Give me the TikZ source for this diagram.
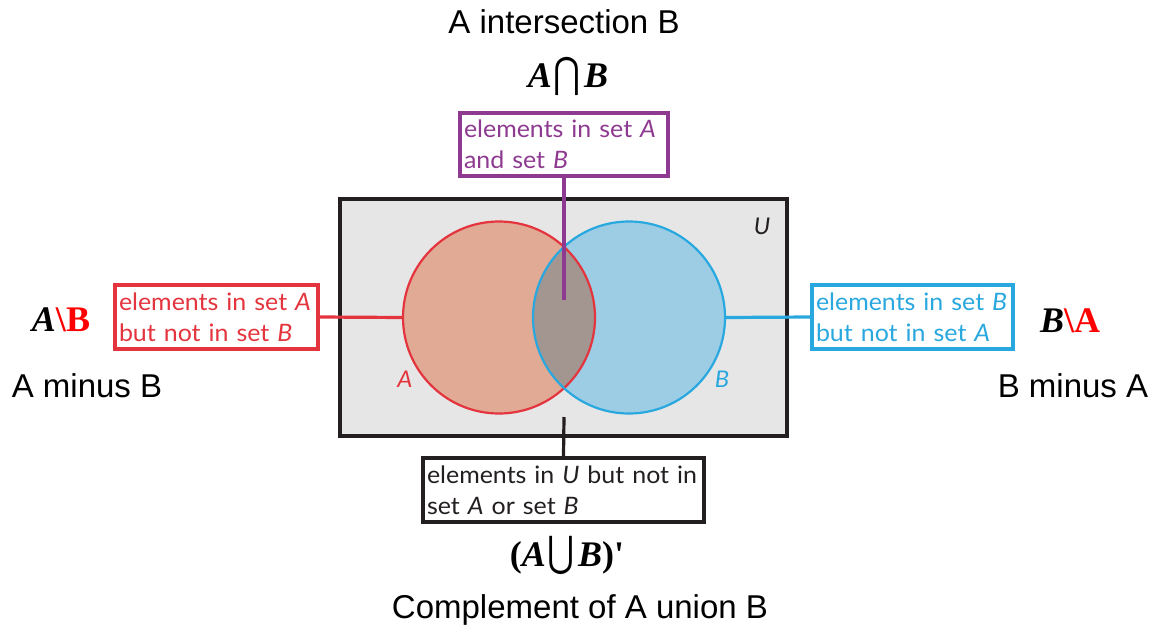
\documentclass[tikz,border=0pt]{standalone}
\usepackage{fontspec}
\setmainfont{Liberation Sans}
\newfontfamily\boxfont[FakeStretch=1.04]{Lato}
\newfontfamily\mathserif{Liberation Serif}
\newfontfamily\opfont{DejaVu Sans}
\definecolor{ured}{HTML}{E4343E}
\definecolor{ublue}{HTML}{29A8DF}
\definecolor{upurple}{HTML}{8E3A91}
\definecolor{udark}{HTML}{231F20}
\definecolor{ugray}{HTML}{E6E6E6}
\definecolor{afill}{HTML}{E0AA95}
\definecolor{bfill}{HTML}{9DCDE5}
\definecolor{abfill}{HTML}{A39590}
\definecolor{mred}{HTML}{FF0000}
\newcommand{\bigcapsym}{\hspace{2pt}\scalebox{1.1}[1.4]{\opfont\mdseries\upshape\fontsize{30}{30}\selectfont ⋂}\hspace{3pt}}
\newcommand{\bigcupsym}{\hspace{2pt}\scalebox{1.1}[1.4]{\opfont\mdseries\upshape\fontsize{30}{30}\selectfont ⋃}\hspace{3pt}}
\tikzset{
  infobox/.style={draw=#1, text=#1, line width=3.2pt, fill=white, align=left,
    inner xsep=4pt, inner ysep=2pt, anchor=center,
    font=\boxfont\fontsize{24}{31}\selectfont},
  conn/.style={line width=3.2pt, draw=#1},
  caption/.style={font=\fontsize{33}{33}\selectfont, text=black, inner sep=0pt},
  setsym/.style={font=\mathserif\bfseries\fontsize{36}{36}\selectfont, text=black, inner sep=0pt},
  circ/.style={circle, minimum size=192pt, inner sep=0pt},
}
\begin{document}
\begin{tikzpicture}[x=1pt,y=-1pt]
\useasboundingbox (0,0) rectangle (1159,632);
% universe
\node[draw=udark, line width=3.2pt, fill=ugray, minimum width=447pt, minimum height=237pt, inner sep=0pt] (U) at (563.5,317.5) {};
\node[font=\boxfont\itshape\fontsize{23}{23}\selectfont, text=udark] (Ulab) at (762,226) {U};
% circles
\node[circ, fill=afill] (A) at (499,317.5) {};
\node[circ, fill=bfill] (B) at (629,317.5) {};
\begin{scope}
  \clip (A.center) circle (96);
  \fill[abfill] (B.center) circle (96);
\end{scope}
\draw[ured, line width=2.2pt] (A.center) circle (96);
\draw[ublue, line width=2.2pt] (B.center) circle (96);
\node[font=\boxfont\itshape\fontsize{23}{23}\selectfont, text=ured] (Alab) at (405,379) {A};
\node[font=\boxfont\itshape\fontsize{23}{23}\selectfont, text=ublue] (Blab) at (722,379) {B};
% boxes
\node[infobox=upurple, minimum width=208pt, minimum height=63pt, text width=200pt] (pbox) at (564,144.5)
  {elements in set \textit{A}\\and set \textit{B}};
\node[infobox=ured, minimum width=203pt, minimum height=64pt, text width=195pt] (rbox) at (216.5,317)
  {elements in set \textit{A}\\but not in set \textit{B}};
\node[infobox=ublue, minimum width=201pt, minimum height=64pt, text width=193pt] (bbox) at (912.5,317)
  {elements in set \textit{B}\\but not in set \textit{A}};
\node[infobox=udark, minimum width=281pt, minimum height=64pt, text width=273pt] (kbox) at (563.5,490)
  {elements in \textit{U} but not in\\set \textit{A} or set \textit{B}};
% connectors
\coordinate (pend) at (564,300);
\coordinate (kend) at (564,417);
\draw[conn=upurple] (pbox.south) -- (pend);
\draw[conn=ured] (rbox.east) -- (A.west);
\draw[conn=ublue] (B.east) -- (bbox.west);
\draw[conn=udark] (kend) -- (kbox.north);
% captions
\node[caption] (capI) at (564,22) {A intersection B};
\node[setsym] (symI) at (568,76) {\itshape A\bigcapsym B};
\node[setsym] (symAB) at (61,320) {\itshape A\upshape\textcolor{mred}{\textbackslash B}};
\node[caption] (capAB) at (87,386) {A minus B};
\node[setsym] (symBA) at (1070,321) {\itshape B\upshape\textcolor{mred}{\textbackslash A}};
\node[caption] (capBA) at (1073,386) {B minus A};
\node[setsym] (symU) at (567,555) {(\itshape A\bigcupsym B\upshape)\textquotesingle};
\node[caption] (capU) at (580,610) {Complement of A union B};
\end{tikzpicture}
\end{document}
